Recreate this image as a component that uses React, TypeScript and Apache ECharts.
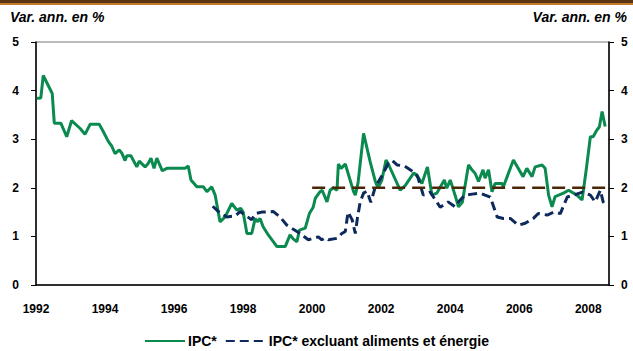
import React, { useEffect, useRef } from "react";
import * as echarts from "echarts";

const yearTicks = [1992, 1994, 1996, 1998, 2000, 2002, 2004, 2006, 2008];
const valueTicks = [0, 1, 2, 3, 4, 5];
const axisTitle = "Var. ann. en %";
const seriesNames = ["IPC*", "IPC* excluant aliments et énergie"];

const ipcYears = [
  1992.02, 1992.14, 1992.21, 1992.47, 1992.53, 1992.72, 1992.89, 1993.03, 1993.28, 1993.42,
  1993.57, 1993.83, 1993.94, 1994.10, 1994.20, 1994.29, 1994.41, 1994.49, 1994.58, 1994.63,
  1994.75, 1994.92, 1994.99, 1995.16, 1995.25, 1995.33, 1995.42, 1995.50, 1995.66, 1995.79,
  1996.32, 1996.41, 1996.49, 1996.66, 1996.85, 1996.95, 1997.09, 1997.19, 1997.33, 1997.48,
  1997.67, 1997.82, 1997.93, 1998.00, 1998.11, 1998.25, 1998.35, 1998.41, 1998.49, 1998.58,
  1998.73, 1998.98, 1999.22, 1999.36, 1999.45, 1999.56, 1999.63, 1999.80, 1999.92, 2000.03,
  2000.09, 2000.23, 2000.29, 2000.43, 2000.52, 2000.61, 2000.72, 2000.76, 2000.84, 2000.96,
  2001.20, 2001.25, 2001.33, 2001.49, 2001.68, 2001.83, 2001.91, 2002.02, 2002.14, 2002.20,
  2002.55, 2002.70, 2002.94, 2003.03, 2003.18, 2003.34, 2003.47, 2003.61, 2003.83, 2003.90,
  2004.00, 2004.14, 2004.24, 2004.35, 2004.53, 2004.64, 2004.72, 2004.82, 2004.95, 2005.01,
  2005.11, 2005.21, 2005.30, 2005.50, 2005.54, 2005.83, 2006.11, 2006.22, 2006.37, 2006.46,
  2006.66, 2006.75, 2006.85, 2006.95, 2007.04, 2007.28, 2007.43, 2007.67, 2007.82, 2007.94,
  2008.06, 2008.14, 2008.25, 2008.32, 2008.40, 2008.49,
];
const ipcValues = [
  3.84, 3.85, 4.31, 3.94, 3.33, 3.33, 3.05, 3.38, 3.22, 3.10,
  3.31, 3.31, 3.17, 2.95, 2.85, 2.70, 2.78, 2.71, 2.56, 2.66,
  2.66, 2.43, 2.55, 2.43, 2.50, 2.61, 2.40, 2.61, 2.35, 2.40,
  2.40, 2.45, 2.16, 2.02, 2.02, 1.92, 2.02, 1.85, 1.30, 1.40,
  1.68, 1.54, 1.58, 1.50, 1.06, 1.06, 1.37, 1.30, 1.37, 1.20,
  1.03, 0.79, 0.79, 1.03, 0.95, 0.89, 1.13, 1.17, 1.47, 1.60,
  1.78, 1.92, 1.95, 1.71, 1.95, 2.00, 1.95, 2.49, 2.40, 2.49,
  1.92, 1.85, 2.10, 3.12, 2.54, 2.13, 2.00, 2.16, 2.57, 2.50,
  1.95, 2.05, 2.30, 2.27, 2.09, 2.43, 1.85, 1.89, 2.16, 1.99,
  2.16, 1.85, 1.61, 1.70, 2.47, 2.36, 2.30, 2.13, 2.37, 2.20,
  2.37, 1.92, 2.09, 2.09, 2.02, 2.57, 2.23, 2.40, 2.23, 2.43,
  2.47, 2.40, 1.85, 1.61, 1.82, 1.89, 1.95, 1.85, 1.75, 2.37,
  3.05, 3.05, 3.19, 3.25, 3.57, 3.26,
];

const coreYears = [
  1997.12, 1997.33, 1997.53, 1997.77, 1997.91, 1998.06, 1998.25, 1998.35, 1998.54, 1998.88,
  1999.07, 1999.27, 1999.56, 1999.65, 1999.89, 2000.18, 2000.28, 2000.38, 2000.47, 2000.72,
  2000.86, 2000.96, 2001.04, 2001.16, 2001.25, 2001.31, 2001.39, 2001.49, 2001.59, 2001.70,
  2001.83, 2001.94, 2002.03, 2002.21, 2002.32, 2002.46, 2002.67, 2002.84, 2002.99, 2003.07,
  2003.22, 2003.42, 2003.71, 2003.94, 2004.14, 2004.29, 2004.43, 2004.64, 2004.87, 2005.01,
  2005.16, 2005.36, 2005.54, 2005.74, 2005.97, 2006.17, 2006.41, 2006.55, 2006.81, 2007.01,
  2007.19, 2007.39, 2007.62, 2007.83, 2008.06, 2008.20, 2008.35, 2008.43, 2008.52,
];
const coreValues = [
  1.62, 1.48, 1.40, 1.42, 1.51, 1.44, 1.34, 1.47, 1.50, 1.51,
  1.40, 1.23, 1.10, 1.06, 0.93, 0.99, 0.93, 0.97, 0.93, 0.96,
  1.06, 1.10, 1.50, 1.34, 1.06, 1.37, 1.70, 1.89, 1.93, 1.70,
  2.02, 2.15, 2.26, 2.51, 2.56, 2.47, 2.45, 2.37, 2.30, 2.20,
  1.85, 1.91, 1.60, 1.71, 1.61, 1.75, 1.85, 1.87, 1.89, 1.85,
  1.81, 1.40, 1.37, 1.37, 1.23, 1.27, 1.37, 1.47, 1.44, 1.50,
  1.47, 1.81, 1.86, 1.91, 1.85, 1.71, 1.95, 1.71, 1.63,
];

const targetYears = [2000.0, 2008.6];
const targetValues = [2, 2];

const FONT = 'Arial, "Liberation Sans", sans-serif';
const GREEN = "#0b8a4f";
const NAVY = "#0e2a5c";
const BROWN = "#4a2606";

export default function App() {
  const ref = useRef<HTMLDivElement>(null);

  useEffect(() => {
    if (!ref.current) return;
    const chart = echarts.init(ref.current, undefined, { renderer: "svg" });
    const pairs = (xs: number[], ys: number[]) => xs.map((x, i) => [x, ys[i]]);
    const yAxisCommon = {
      type: "value" as const,
      min: valueTicks[0],
      max: valueTicks[valueTicks.length - 1],
      interval: 1,
      splitLine: { show: false },
      axisLine: { show: true, lineStyle: { color: "#000", width: 1.5 } },
      axisTick: { show: true, inside: false, length: 5, lineStyle: { color: "#000", width: 1 } },
    };
    const labelFont = { color: "#000", fontWeight: "bold" as const, fontSize: 12, fontFamily: FONT };
    chart.setOption({
      animation: false,
      backgroundColor: "#fff",
      grid: {
        left: 36,
        right: 24,
        top: 42,
        bottom: 66,
        show: true,
        borderColor: "#777",
        borderWidth: 1,
      },
      graphic: [
        { type: "rect", left: 0, top: 0, shape: { width: 633, height: 3 }, style: { fill: "#5a3413" } },
        { type: "rect", left: 0, top: 3, shape: { width: 633, height: 2 }, style: { fill: "#c67a2c" } },
        {
          type: "text",
          left: 10,
          top: 10,
          style: { text: axisTitle, font: `italic bold 14px ${FONT}`, fill: "#000" },
        },
        {
          type: "text",
          right: 6,
          top: 10,
          style: { text: axisTitle, font: `italic bold 14px ${FONT}`, fill: "#000" },
        },
      ],
      xAxis: {
        type: "value",
        min: yearTicks[0],
        max: 2008.6,
        interval: 2,
        splitLine: { show: false },
        axisLine: { show: true, onZero: false, lineStyle: { color: "#000", width: 1.5 } },
        axisTick: { show: false },
        axisLabel: {
          ...labelFont,
          margin: 18,
          showMaxLabel: false,
          formatter: (v: number) => (yearTicks.includes(v) ? String(v) : ""),
        },
      },
      yAxis: [
        { ...yAxisCommon, position: "left", axisLabel: { ...labelFont, margin: 17 } },
        { ...yAxisCommon, position: "right", axisLabel: { ...labelFont, margin: 12 } },
      ],
      legend: {
        data: seriesNames,
        top: 334,
        left: "center",
        padding: 0,
        itemWidth: 40,
        itemHeight: 10,
        itemGap: 8,
        itemStyle: { opacity: 0 },
        textStyle: { color: "#000", fontWeight: "bold", fontSize: 14, fontFamily: FONT, padding: [0, 0, 0, -2] },
      },
      series: [
        {
          name: seriesNames[0],
          type: "line",
          data: pairs(ipcYears, ipcValues),
          showSymbol: false,
          symbol: "none",
          z: 2,
          lineStyle: { color: GREEN, width: 3 },
          itemStyle: { color: GREEN },
        },
        {
          name: seriesNames[1],
          type: "line",
          data: pairs(coreYears, coreValues),
          showSymbol: false,
          symbol: "none",
          z: 3,
          lineStyle: { color: NAVY, width: 3, type: [9, 5] },
          itemStyle: { color: NAVY },
        },
        {
          name: "cible",
          type: "line",
          data: pairs(targetYears, targetValues),
          showSymbol: false,
          symbol: "none",
          z: 4,
          lineStyle: { color: BROWN, width: 2.5, type: [13, 7] },
          itemStyle: { color: BROWN },
        },
      ],
    });
    return () => chart.dispose();
  }, []);

  return (
    <div
      ref={ref}
      style={{ position: "absolute", left: 0, top: 0, width: 633, height: 351 }}
    />
  );
}
